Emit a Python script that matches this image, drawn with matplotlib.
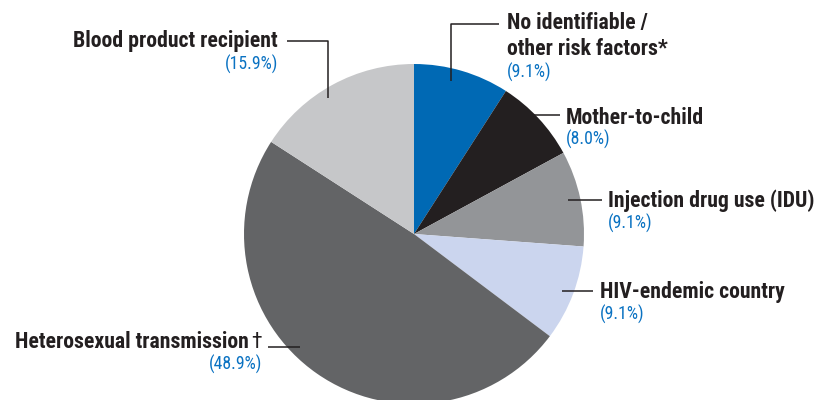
import matplotlib
matplotlib.use("Agg")
import matplotlib.pyplot as plt
from matplotlib import font_manager as fm

# ---- data ----
categories = ["No identifiable /\nother risk factors*", "Mother-to-child",
              "Injection drug use (IDU)", "HIV-endemic country",
              "Heterosexual transmission\u2020", "Blood product recipient"]
values = [9.1, 8.0, 9.1, 9.1, 48.9, 15.9]
pct_labels = ["(9.1%)", "(8.0%)", "(9.1%)", "(9.1%)", "(48.9%)", "(15.9%)"]
colors = ["#0069b4", "#231f20", "#939598", "#cbd5ee", "#636466", "#c6c7c9"]

names = {f.name for f in fm.fontManager.ttflist}
family = "DejaVu Sans"
for cand in ["Roboto Condensed", "Liberation Sans Narrow", "Open Sans Condensed",
             "Noto Sans Condensed", "Liberation Sans"]:
    if cand in names:
        family = cand
        break
plt.rcParams["font.family"] = [family, "DejaVu Sans"]

W, H = 820, 400
fig = plt.figure(figsize=(W / 100, H / 100), dpi=100)
ax = fig.add_axes([0, 0, 1, 1])

cx, cy, r = 414, 234, 170
ax.pie(values, colors=colors, startangle=90, counterclock=False,
       center=(cx, H - cy), radius=r, frame=True,
       wedgeprops=dict(linewidth=0))
ax.set_xlim(0, W)
ax.set_ylim(0, H)
ax.axis("off")

dark = "#231f20"
blue = "#0a72c2"
fs_lab = 15.7
fs_pct = 12.8

def Y(y):
    return H - y

# label layout: (x, baseline y of first line, ha, pct baseline y, leader path)
layout = [
    (507, 29, "left", 78, [(451, 81), (451, 24), (499, 24)]),
    (566, 124, "left", 145, [(520, 115), (560, 115)]),
    (608, 207, "left", 229, [(568, 200), (602, 200)]),
    (600, 298, "left", 320, [(562, 291), (593, 291)]),
    (262, 348, "right", 370, [(268, 347), (300, 347)]),
    (278, 47, "right", 70, [(287, 41), (328, 41), (328, 98)]),
]

for cat, pct, (x, yb, ha, yp, path) in zip(categories, pct_labels, layout):
    lines = cat.split("\n")
    for i, ln in enumerate(lines):
        if ln.endswith("\u2020"):
            t = ax.text(x, Y(yb + i * 26), "\u2020", ha="right", va="baseline",
                        fontsize=fs_lab, fontweight="normal", color=dark)
            ax.text(x - 13, Y(yb + i * 26), ln[:-1], ha="right", va="baseline",
                    fontsize=fs_lab, fontweight="bold", color=dark)
        else:
            ax.text(x, Y(yb + i * 26), ln, ha=ha, va="baseline", fontsize=fs_lab,
                    fontweight="bold", color=dark)
    ax.text(x, Y(yp), pct, ha=ha, va="baseline", fontsize=fs_pct, color=blue)
    xs = [p[0] for p in path]
    ys = [Y(p[1]) for p in path]
    ax.plot(xs, ys, color=dark, linewidth=1.1, solid_capstyle="butt")

fig.savefig("out.png", dpi=100)
